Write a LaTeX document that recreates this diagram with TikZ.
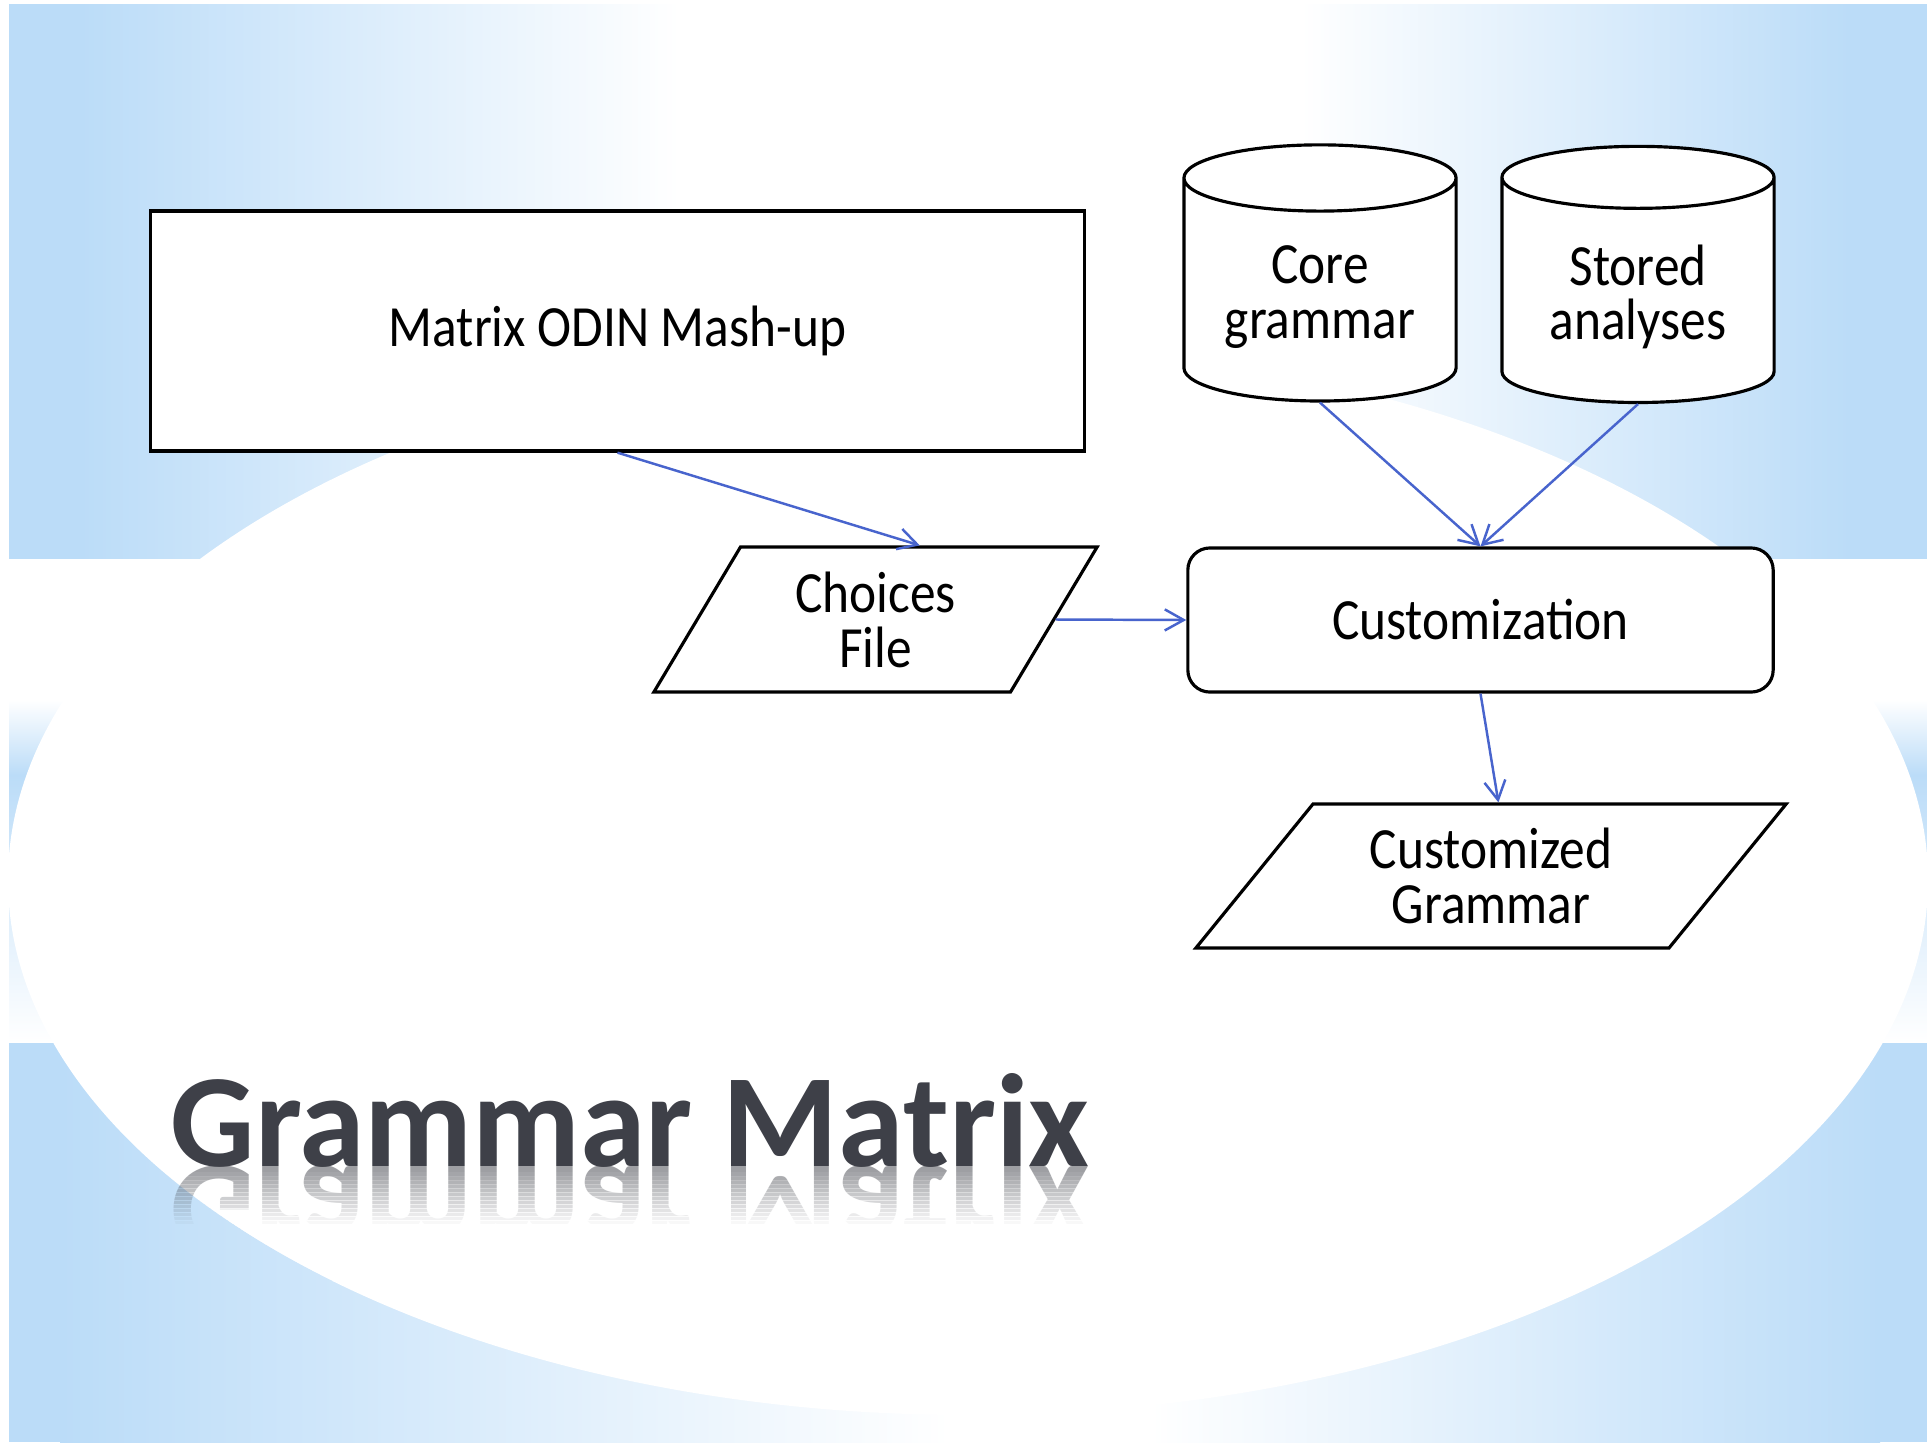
\documentclass[tikz,border=0pt]{standalone}
\usepackage{fontspec}
\setmainfont{Carlito}[FakeStretch=0.88]
\newfontfamily\headfont{Carlito}
\usetikzlibrary{shapes.geometric}
\usetikzlibrary{arrows.meta}
\usetikzlibrary{calc}

\definecolor{bgblue}{RGB}{187,220,248}
\definecolor{flowblue}{RGB}{72,100,205}
\definecolor{titlegray}{RGB}{62,64,72}

\tikzset{
        box/.style={draw, line width=0.9pt, fill=white, align=center,
                font=\fontsize{16.6}{15.6}\selectfont},
        datafile/.style={box, trapezium, trapezium stretches body},
        store/.style={box, cylinder, shape border rotate=90, aspect=0.31,
                minimum width=2.72cm, minimum height=2.56cm},
        flow/.style={flowblue, line width=0.7pt,
                -{Straight Barb[length=5.4pt,width=6pt]}},
        titletext/.style={text=titlegray, inner sep=0pt,
                font=\headfont\bfseries\fontsize{37.7}{40}\selectfont}
}

\begin{document}
\begin{tikzpicture}[x=0.01cm,y=-0.01cm]
        \useasboundingbox (0,0) rectangle (1927,1442);

        % draw the background
        \fill[white] (0,0) rectangle (1927,1442);
        \fill[bgblue] (9,4) rectangle (1927,1442);
        \shade[left color=bgblue, right color=white] (80,4) rectangle (680,559);
        \fill[white] (680,4) rectangle (1300,559);
        \shade[left color=white, right color=bgblue] (1300,4) rectangle (1850,559);
        \fill[white] (9,559) rectangle (1927,700);
        \shade[top color=white, bottom color=bgblue] (9,700) rectangle (1927,775);
        \shade[top color=bgblue, bottom color=white] (9,775) rectangle (1927,1042);
        \shade[left color=bgblue, right color=white] (60,1042) rectangle (950,1442);
        \fill[white] (950,1042) rectangle (1150,1442);
        \shade[left color=white, right color=bgblue] (1150,1042) rectangle (1880,1442);
        % the white disc
        \fill[white] (968,880) ellipse (960 and 535);

        % draw the boxes
        \node[box, minimum width=9.33cm, minimum height=2.40cm] (mashup) at (617.5,331) {Matrix ODIN Mash-up};
        \node[store] (core) at (1320,297) {Core\\grammar};
        \node[store] (stored) at (1638,297) {Stored\\analyses};
        \node[datafile, trapezium left angle=54, trapezium right angle=126,
                minimum width=4.43cm, minimum height=1.45cm] (choices) at (875.5,619.5) {Choices\\File};
        \node[box, rounded corners=0.22cm, minimum width=5.85cm, minimum height=1.44cm] (custom) at (1480.5,620) {Customization};
        \node[datafile, trapezium left angle=45.5, trapezium right angle=134.5,
                minimum width=5.90cm, minimum height=1.44cm] (result) at (1491,876) {Customized\\Grammar};

        % draw the arrows
        \draw[flow] (mashup.south) -- (choices.top side);
        \draw[flow] (choices.right side) -- (custom.west);
        \draw[flow] (core.south) -- (custom.north);
        \draw[flow] (stored.south) -- (custom.north);
        \draw[flow] (custom.south) -- ($(result.top left corner)!0.39!(result.top right corner)$);

        % draw the title and its mirror image
        \node[titletext, anchor=base west] (title) at (170,1166) {Grammar Matrix};
        \begin{scope}[shift={(170,1166)}, yscale=-1]
                \node[titletext, text opacity=0.5, transform shape, anchor=base west] (mirror) at (0,0) {Grammar Matrix};
        \end{scope}

        % fade the mirror image out
        \begin{scope}
                \clip (968,880) ellipse (960 and 535);
                \foreach \i [evaluate=\i as \op using \i/14] in {0,...,14}
                        \fill[white, opacity=\op] (150,1168+4*\i) rectangle (1120,1172.5+4*\i);
                \fill[white] (150,1228) rectangle (1120,1280);
        \end{scope}
        \begin{scope}[even odd rule]
                \clip (150,1160) rectangle (420,1290);
                \clip (0,0) rectangle (1927,1442) (968,880) ellipse (960 and 535);
                \foreach \i [evaluate=\i as \op using \i/14] in {0,...,14}
                        \shade[left color=bgblue, right color=white, opacity=\op] (60,1168+4*\i) rectangle (950,1172.5+4*\i);
                \shade[left color=bgblue, right color=white] (60,1228) rectangle (950,1280);
        \end{scope}
\end{tikzpicture}
\end{document}
